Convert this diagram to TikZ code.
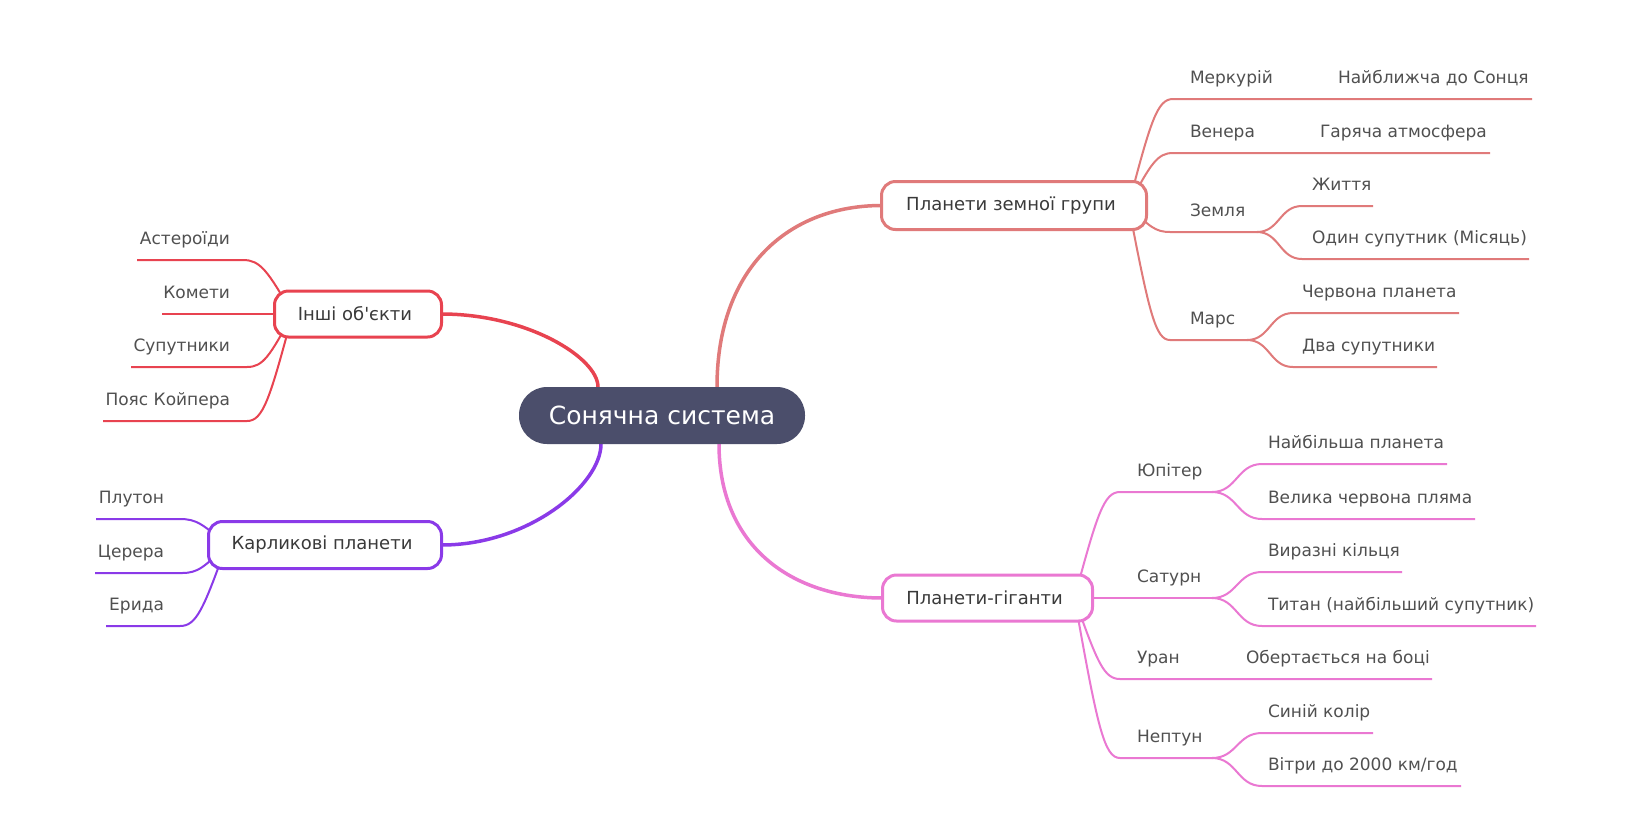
\documentclass[tikz,border=0pt]{standalone}
\usepackage{fontspec}
\newfontfamily\dv{DejaVu Sans}
\usetikzlibrary{calc}
\definecolor{colT}{HTML}{E07A7A}
\definecolor{colO}{HTML}{E84350}
\definecolor{colD}{HTML}{8A3AE8}
\definecolor{colG}{HTML}{EA78D2}
\definecolor{cfill}{HTML}{4B4E6B}
\definecolor{lblgray}{HTML}{505050}
\definecolor{nodegray}{HTML}{3A3A3A}
\pgfdeclarelayer{bg}
\pgfsetlayers{bg,main}
\newcommand\tshift{\hspace*{6pt}}
\begin{document}
\begin{tikzpicture}[x=1pt,y=-1pt,
  every node/.style={inner sep=0pt, outer sep=0pt},
  lbl/.style={font=\dv\fontsize{17}{20}\selectfont, text=lblgray},
  topic/.style={draw, line width=3pt, rounded corners=14pt, fill=white, font=\dv\fontsize{18}{22}\selectfont, text=nodegray},
  central/.style={fill=cfill, rounded corners=28pt, minimum width=286pt, minimum height=57pt, text=white, font=\dv\fontsize{25}{30}\selectfont},
  mainline/.style={line width=3.5pt},
  subline/.style={line width=2pt},
  mainc/.style 2 args={to path={let \p1=(\tikztostart),\p2=(\tikztotarget) in .. controls (\x1,{\y1+#1*(\y2-\y1)}) and ({\x1+#2*(\x2-\x1)},\y2) .. (\tikztotarget)}},
  brc/.style={to path={let \p1=(\tikztostart),\p2=(\tikztotarget) in .. controls ({\x1+0.5*(\x2-\x1)},{\y1+0.8*(\y2-\y1)}) and ({\x1+0.65*(\x2-\x1)},\y2) .. (\tikztotarget)}},
  fk/.style={to path={let \p1=(\tikztostart),\p2=(\tikztotarget) in .. controls ({\x1+0.5*(\x2-\x1)},\y1) and ({\x1+0.5*(\x2-\x1)},\y2) .. (\tikztotarget)}},
]
\useasboundingbox (0,0) rectangle (1630,831);
\begin{pgfonlayer}{bg}
\fill[white] (0,0) rectangle (1630,831);
\end{pgfonlayer}

% topics
\node[central] (sun) at (662,415.5) {Сонячна система};
\node[topic, draw=colT, minimum width=265pt, minimum height=48pt] (terr) at (1014,205.5) {Планети земної групи\tshift};
\node[topic, draw=colG, minimum width=210pt, minimum height=46pt] (giant) at (987.5,598) {Планети-гіганти\tshift};
\node[topic, draw=colO, minimum width=167pt, minimum height=46pt] (oth) at (358,314) {Інші об'єкти\tshift};
\node[topic, draw=colD, minimum width=233pt, minimum height=47pt] (dwarf) at (325,545) {Карликові планети\tshift};

% labels right, terrestrial
\node[lbl, anchor=base west] (merc) at (1190,83) {Меркурій};
\node[lbl, anchor=base west] (mercD) at (1338,83) {Найближча до Сонця};
\node[lbl, anchor=base west] (ven) at (1190,137) {Венера};
\node[lbl, anchor=base west] (venD) at (1320,137) {Гаряча атмосфера};
\node[lbl, anchor=base west] (earth) at (1190,216) {Земля};
\node[lbl, anchor=base west] (earth1) at (1312,190) {Життя};
\node[lbl, anchor=base west] (earth2) at (1312,243) {Один супутник (Місяць)};
\node[lbl, anchor=base west] (mars) at (1190,324) {Марс};
\node[lbl, anchor=base west] (mars1) at (1302,297) {Червона планета};
\node[lbl, anchor=base west] (mars2) at (1302,351) {Два супутники};
% labels right, giants
\node[lbl, anchor=base west] (jup) at (1137,476) {Юпітер};
\node[lbl, anchor=base west] (jup1) at (1268,448) {Найбільша планета};
\node[lbl, anchor=base west] (jup2) at (1268,503) {Велика червона пляма};
\node[lbl, anchor=base west] (sat) at (1137,582) {Сатурн};
\node[lbl, anchor=base west] (sat1) at (1268,556) {Виразні кільця};
\node[lbl, anchor=base west] (sat2) at (1268,610) {Титан (найбільший супутник)};
\node[lbl, anchor=base west] (ura) at (1137,663) {Уран};
\node[lbl, anchor=base west] (uraD) at (1246,663) {Обертається на боці};
\node[lbl, anchor=base west] (nep) at (1137,742) {Нептун};
\node[lbl, anchor=base west] (nep1) at (1268,717) {Синій колір};
\node[lbl, anchor=base west] (nep2) at (1268,770) {Вітри до 2000 км/год};
% labels left
\node[lbl, anchor=base east] (ast) at (230,244) {Астероїди};
\node[lbl, anchor=base east] (com) at (230,298) {Комети};
\node[lbl, anchor=base east] (sup) at (230,351) {Супутники};
\node[lbl, anchor=base east] (kui) at (230,405) {Пояс Койпера};
\node[lbl, anchor=base east] (plu) at (164,503) {Плутон};
\node[lbl, anchor=base east] (cer) at (164,557) {Церера};
\node[lbl, anchor=base east] (eri) at (164,610) {Ерида};

% coordinates
\coordinate (cT) at ([xshift=55pt]sun.north);
\coordinate (cO) at ([xshift=-64pt]sun.north);
\coordinate (cD) at ([xshift=-61pt]sun.south);
\coordinate (cG) at ([xshift=57pt]sun.south);
\coordinate (tO) at ([xshift=-18pt]terr.east);
\coordinate (gO) at ([xshift=-18pt]giant.east);
\coordinate (oO) at ([xshift=18pt]oth.west);
\coordinate (dO) at ([xshift=18pt]dwarf.west);

\coordinate (mS) at (1173,99);  \coordinate (mE) at (1532,99);
\coordinate (vS) at (1173,153); \coordinate (vE) at (1490,153);
\coordinate (eS) at (1170,232); \coordinate (eF) at (1257,232);
\coordinate (e1S) at (1302,206); \coordinate (e1E) at (1373,206);
\coordinate (e2S) at (1302,259); \coordinate (e2E) at (1529,259);
\coordinate (maS) at (1170,340); \coordinate (maF) at (1247,340);
\coordinate (ma1S) at (1293,313); \coordinate (ma1E) at (1459,313);
\coordinate (ma2S) at (1293,367); \coordinate (ma2E) at (1437,367);

\coordinate (jS) at (1120,492); \coordinate (jF) at (1212,492);
\coordinate (j1S) at (1262,464); \coordinate (j1E) at (1447,464);
\coordinate (j2S) at (1262,519); \coordinate (j2E) at (1475,519);
\coordinate (sF) at (1212,598);
\coordinate (s1S) at (1262,572); \coordinate (s1E) at (1402,572);
\coordinate (s2S) at (1262,626); \coordinate (s2E) at (1536,626);
\coordinate (uS) at (1120,679); \coordinate (uE) at (1432,679);
\coordinate (nS) at (1120,758); \coordinate (nF) at (1212,758);
\coordinate (n1S) at (1262,733); \coordinate (n1E) at (1373,733);
\coordinate (n2S) at (1262,786); \coordinate (n2E) at (1461,786);

\coordinate (aS) at (243,260); \coordinate (aE) at (137,260);
\coordinate (kE) at (162,314);
\coordinate (suS) at (247,367); \coordinate (suE) at (131,367);
\coordinate (pS) at (247,421); \coordinate (pE) at (103,421);

\coordinate (plS) at (180,519); \coordinate (plE) at (96,519);
\coordinate (ceS) at (182,573); \coordinate (ceE) at (95,573);
\coordinate (erS) at (180,626); \coordinate (erE) at (106,626);

\begin{pgfonlayer}{bg}
% main branches
\draw[mainline, colT] (cT) to[mainc={0.67}{0.45}] (terr.west);
\draw[mainline, colG] (cG) to[mainc={0.67}{0.45}] (giant.west);
\draw[mainline, colO] (cO) to[mainc={0.4}{0.45}] (oth.east);
\draw[mainline, colD] (cD) to[mainc={0.4}{0.45}] (dwarf.east);

% terrestrial
\begin{scope}[subline, colT]
\draw (tO) to[brc] (mS) -- (mE);
\draw (tO) to[brc] (vS) -- (vE);
\draw (tO) to[brc] (eS) -- (eF);
\draw (eF) to[fk] (e1S) -- (e1E);
\draw (eF) to[fk] (e2S) -- (e2E);
\draw (tO) to[brc] (maS) -- (maF);
\draw (maF) to[fk] (ma1S) -- (ma1E);
\draw (maF) to[fk] (ma2S) -- (ma2E);
\end{scope}
% giants
\begin{scope}[subline, colG]
\draw (gO) to[brc] (jS) -- (jF);
\draw (jF) to[fk] (j1S) -- (j1E);
\draw (jF) to[fk] (j2S) -- (j2E);
\draw (gO) -- (sF);
\draw (sF) to[fk] (s1S) -- (s1E);
\draw (sF) to[fk] (s2S) -- (s2E);
\draw (gO) to[brc] (uS) -- (uE);
\draw (gO) to[brc] (nS) -- (nF);
\draw (nF) to[fk] (n1S) -- (n1E);
\draw (nF) to[fk] (n2S) -- (n2E);
\end{scope}
% other objects
\begin{scope}[subline, colO]
\draw (oO) to[brc] (aS) -- (aE);
\draw (oO) -- (kE);
\draw (oO) to[brc] (suS) -- (suE);
\draw (oO) to[brc] (pS) -- (pE);
\end{scope}
% dwarf planets
\begin{scope}[subline, colD]
\draw (dO) to[brc] (plS) -- (plE);
\draw (dO) to[brc] (ceS) -- (ceE);
\draw (dO) to[brc] (erS) -- (erE);
\end{scope}
\end{pgfonlayer}
\end{tikzpicture}
\end{document}
